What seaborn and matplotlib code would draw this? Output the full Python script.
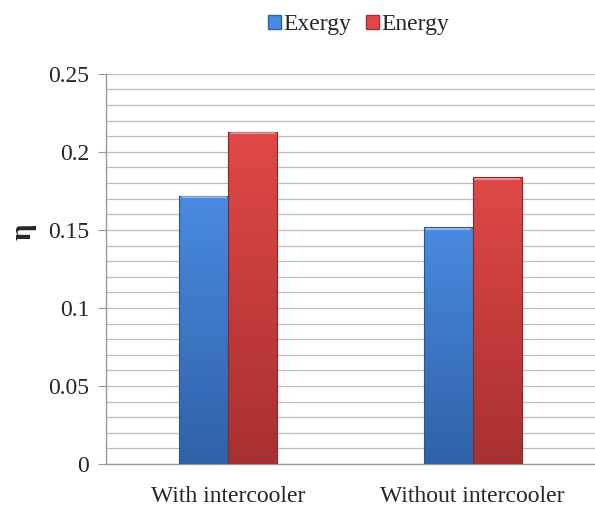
import matplotlib
matplotlib.use("Agg")
import matplotlib.pyplot as plt
import seaborn as sns
import numpy as np
import pandas as pd
from matplotlib.colors import LinearSegmentedColormap
from matplotlib.patches import Patch

categories = ["With intercooler", "Without intercooler"]
series = ["Exergy", "Energy"]
exergy = [0.172, 0.152]
energy = [0.213, 0.184]
yticks = [0, 0.05, 0.1, 0.15, 0.2, 0.25]
ytick_labels = ["0", "0.05", "0.1", "0.15", "0.2", "0.25"]

df = pd.DataFrame({
    "cat": categories * 2,
    "series": [series[0]] * 2 + [series[1]] * 2,
    "val": exergy + energy,
})

sns.set_style("white")
plt.rcParams["font.family"] = ["Liberation Serif", "DejaVu Serif"]

fig = plt.figure(figsize=(5.95, 5.08), dpi=100)
ax = fig.add_axes([0.178, 0.0866, 0.822, 0.768])

palette = {"Exergy": "#3b78cc", "Energy": "#d23c3c"}
sns.barplot(data=df, x="cat", y="val", hue="series", palette=palette,
            width=0.4, gap=0, ax=ax, saturation=1, legend=False,
            edgecolor="none", zorder=3)

grad_cols = {
    "Exergy": ["#4a8ae0", "#2f62a8"],
    "Energy": ["#e04848", "#a83030"],
}
edge_cols = {"Exergy": "#2a5590", "Energy": "#8a2828"}
for cont, s in zip(ax.containers, series):
    cmap = LinearSegmentedColormap.from_list(s, grad_cols[s])
    for p in cont:
        x0, y0 = p.get_x(), p.get_y()
        w, h = p.get_width(), p.get_height()
        grad = np.linspace(0, 1, 256).reshape(-1, 1)
        im = ax.imshow(grad, extent=[x0, x0 + w, y0, y0 + h], cmap=cmap,
                       aspect="auto", origin="upper", zorder=4)
        im.set_clip_path(p)
        p.set_edgecolor(edge_cols[s])
        p.set_linewidth(0.8)
        p.set_facecolor("none")
        p.set_zorder(5)
        ax.plot([x0 + 0.01, x0 + w - 0.01], [y0 + h - 0.0012] * 2, color="white",
                alpha=0.4, lw=1.5, zorder=6)

ax.set_xlim(-0.5, 1.5)
ax.set_ylim(0, 0.25)
ax.set_yticks(yticks)
ax.set_yticklabels(ytick_labels)
ax.set_yticks(np.arange(0, 0.2501, 0.01), minor=True)
ax.grid(True, which="both", axis="y", color="#bdbdbd", lw=0.9, zorder=0)
ax.set_axisbelow(True)
ax.tick_params(axis="y", which="major", length=6, color="#999999",
               labelsize=17, direction="out", left=True, pad=6)
ax.tick_params(axis="y", which="minor", length=0)
ax.tick_params(axis="x", length=0, labelsize=17, pad=16)
ax.set_xlabel("")
ax.set_ylabel("")
fig.text(0.038, 0.543, "η", rotation=90, fontsize=21, fontweight="bold",
         ha="center", va="center")

for sp in ["top", "right"]:
    ax.spines[sp].set_visible(False)
for sp in ["left", "bottom"]:
    ax.spines[sp].set_color("#999999")
    ax.spines[sp].set_linewidth(1.0)

handles = [Patch(facecolor=grad_cols[s][0], edgecolor=grad_cols[s][1]) for s in series]
fig.legend(handles, series, loc="center", bbox_to_anchor=(0.603, 0.951),
           ncol=2, frameon=False, fontsize=17, handlelength=0.55,
           handleheight=0.55, handletextpad=0.1, columnspacing=0.6)

fig.savefig("out.png", dpi=100)
